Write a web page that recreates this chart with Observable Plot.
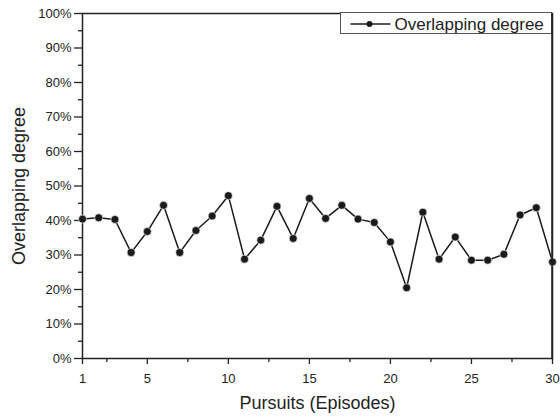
<!DOCTYPE html>
<html>
<head>
<meta charset="utf-8">
<script src="https://cdn.jsdelivr.net/npm/d3@7"></script>
<script src="https://cdn.jsdelivr.net/npm/@observablehq/plot@0.6"></script>
<style>
  html, body { margin: 0; padding: 0; background: #fff; }
  svg { display: block; font-family: "Liberation Sans", Arial, sans-serif; }
</style>
</head>
<body>
<div id="chart"></div>
<script>
const episodes = d3.range(1, 31);
const overlap = [40.4, 40.8, 40.3, 30.7, 36.8, 44.4, 30.7, 37.1, 41.3, 47.2,
                 28.8, 34.3, 44.1, 34.8, 46.4, 40.6, 44.4, 40.4, 39.4, 33.8,
                 20.5, 42.4, 28.8, 35.2, 28.5, 28.5, 30.2, 41.6, 43.7, 28.0];
const xMajorTicks = [1, 5, 10, 15, 20, 25, 30];
const xMinorTicks = [2.5, 7.5, 12.5, 17.5, 22.5, 27.5];
const yMajorTicks = d3.range(0, 101, 10);
const yMinorTicks = d3.range(5, 100, 10);
const seriesName = "Overlapping degree";
const xTitle = "Pursuits (Episodes)";
const yTitle = "Overlapping degree";

const data = episodes.map((e, i) => ({episode: e, value: overlap[i]}));
const ink = "#222";

const chart = Plot.plot({
  width: 560,
  height: 419,
  marginLeft: 82,
  marginRight: 8,
  marginTop: 13,
  marginBottom: 61,
  style: {fontFamily: "Liberation Sans, Arial, sans-serif", color: ink, background: "#fff"},
  x: {domain: [1, 30]},
  y: {domain: [0, 100]},
  marks: [
    Plot.axisY(yMajorTicks, {tickSize: 8, tickPadding: 3, tickFormat: d => d + "%", fontSize: 13, stroke: ink, strokeWidth: 1.3, label: null}),
    Plot.axisY(yMinorTicks, {tickSize: 4, tickFormat: () => "", stroke: ink, strokeWidth: 1.3, label: null}),
    Plot.axisX(xMajorTicks, {tickSize: 6, tickPadding: 9, fontSize: 13, stroke: ink, strokeWidth: 1.3, label: null}),
    Plot.axisX(xMinorTicks, {tickSize: 4, tickFormat: () => "", stroke: ink, strokeWidth: 1.3, label: null}),
    Plot.frame({stroke: ink, strokeWidth: 1.5}),
    Plot.line(data, {x: "episode", y: "value", stroke: "#1a1a1a", strokeWidth: 1.5}),
    Plot.dot(data, {x: "episode", y: "value", r: 4, fill: "#1a1a1a", stroke: "#fff", strokeWidth: 0.6}),
    Plot.text([xTitle], {frameAnchor: "bottom", dy: 50, fontSize: 18, fill: ink, textAnchor: "middle"}),
    Plot.text([yTitle], {frameAnchor: "left", dx: -63, rotate: -90, fontSize: 18, fill: ink, textAnchor: "middle"})
  ]
});
document.getElementById("chart").appendChild(chart);

// Legend box in the top-right corner of the frame
const svg = d3.select(chart);
const g = svg.append("g").attr("transform", "translate(340.5,12.5)");
g.append("rect").attr("width", 211).attr("height", 21).attr("fill", "#fff").attr("stroke", "#555").attr("stroke-width", 1);
g.append("line").attr("x1", 10).attr("x2", 50).attr("y1", 11.5).attr("y2", 11.5).attr("stroke", "#1a1a1a").attr("stroke-width", 1.5);
g.append("circle").attr("cx", 29).attr("cy", 11.5).attr("r", 3).attr("fill", "#1a1a1a");
g.append("text").attr("x", 54).attr("y", 17.5).attr("font-size", 17).attr("text-anchor", "start").attr("fill", ink).text(seriesName);
// redraw right frame edge over legend border
svg.append("line").attr("x1", 552).attr("x2", 552).attr("y1", 13).attr("y2", 358).attr("stroke", ink).attr("stroke-width", 1.5);
</script>
</body>
</html>
